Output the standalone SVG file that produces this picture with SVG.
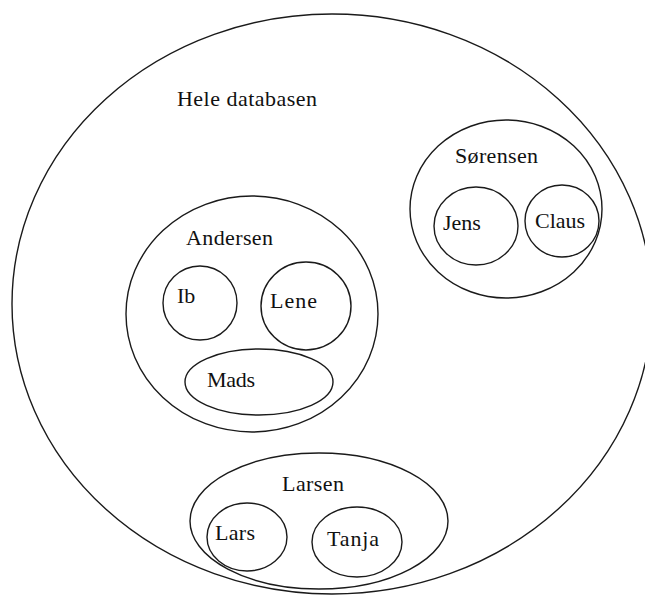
<svg xmlns="http://www.w3.org/2000/svg" width="645" height="596" viewBox="0 0 645 596">
  <style>
    .set { fill: none; stroke: #1a1a1a; stroke-width: 1.4; }
    .lbl { font-family: "Liberation Serif", "Times New Roman", serif; font-size: 22px; fill: #111; }
  </style>
  <rect width="645" height="596" fill="#ffffff"/>

  <!-- outermost set: the whole database -->
  <g id="hele-databasen">
    <ellipse class="set" cx="332" cy="304" rx="320" ry="290"/>
    <text class="lbl" x="177" y="106" textLength="140">Hele databasen</text>
  </g>

  <!-- family Sørensen -->
  <g id="sorensen">
    <ellipse class="set" cx="506" cy="209" rx="96" ry="89"/>
    <text class="lbl" x="455" y="163" textLength="83">Sørensen</text>
  </g>
  <g id="jens">
    <ellipse class="set" cx="476" cy="226" rx="42" ry="39"/>
    <text class="lbl" x="443" y="230">Jens</text>
  </g>
  <g id="claus">
    <ellipse class="set" cx="562" cy="221" rx="37" ry="36"/>
    <text class="lbl" x="535" y="228" textLength="50">Claus</text>
  </g>

  <!-- family Andersen -->
  <g id="andersen">
    <ellipse class="set" cx="252" cy="314" rx="126" ry="118"/>
    <text class="lbl" x="186" y="245" textLength="87">Andersen</text>
  </g>
  <g id="ib">
    <ellipse class="set" cx="200" cy="303" rx="37" ry="37"/>
    <text class="lbl" x="177" y="303">Ib</text>
  </g>
  <g id="lene">
    <ellipse class="set" cx="306" cy="306" rx="45" ry="44"/>
    <text class="lbl" x="270" y="308" textLength="47">Lene</text>
  </g>
  <g id="mads">
    <ellipse class="set" cx="259" cy="382" rx="74" ry="33"/>
    <text class="lbl" x="207" y="387" textLength="48">Mads</text>
  </g>

  <!-- family Larsen -->
  <g id="larsen">
    <ellipse class="set" cx="319" cy="521" rx="129" ry="68"/>
    <text class="lbl" x="282" y="491" textLength="62">Larsen</text>
  </g>
  <g id="lars">
    <ellipse class="set" cx="247" cy="537" rx="40" ry="34"/>
    <text class="lbl" x="215" y="540" textLength="40">Lars</text>
  </g>
  <g id="tanja">
    <ellipse class="set" cx="357" cy="542" rx="45" ry="35"/>
    <text class="lbl" x="327" y="546" textLength="52">Tanja</text>
  </g>
</svg>
